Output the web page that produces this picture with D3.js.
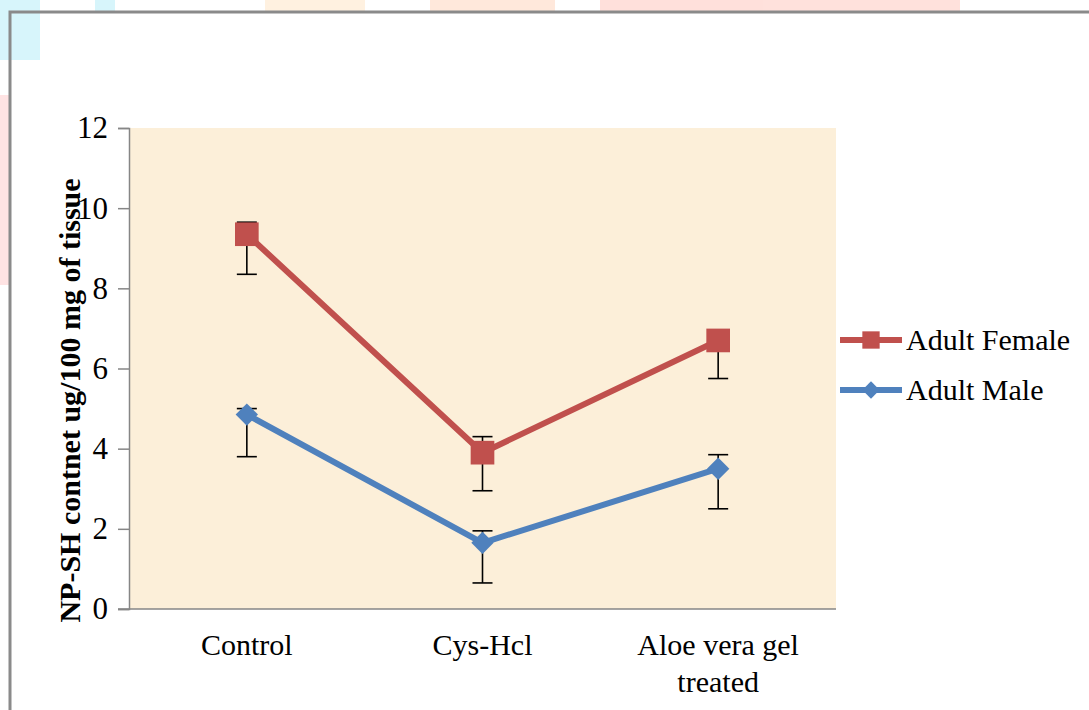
<!DOCTYPE html>
<html>
<head>
<meta charset="utf-8">
<script src="https://cdn.jsdelivr.net/npm/d3@7"></script>
<style>
  body { margin: 0; background: #fff; }
  svg text { font-family: "Liberation Serif", "Times New Roman", serif; fill: #000; }
</style>
</head>
<body>
<div id="chart"></div>
<script>
// chart data
const categories = ["Control", "Cys-Hcl", "Aloe vera gel treated"];
const seriesNames = ["Adult Female", "Adult Male"];
const femaleValues = [9.35, 3.9, 6.7];
const femaleErrPlus = [0.3, 0.4, 0.25];
const femaleErrMinus = [1.0, 0.95, 0.95];
const maleValues = [4.85, 1.65, 3.5];
const maleErrPlus = [0.15, 0.3, 0.35];
const maleErrMinus = [1.05, 1.0, 1.0];
const yTicks = [0, 2, 4, 6, 8, 10, 12];

function renderChart() {
    const width = 1089, height = 710;
    const margin = { left: 129, right: 253, top: 128, bottom: 101 }; // plot = 129..836, 128..609

    const svg = d3.select("#chart").append("svg")
        .attr("width", width)
        .attr("height", height);

    // faint watermark pieces peeking above the frame
    const wm = svg.append("g").attr("opacity", 0.35);
    wm.append("rect").attr("x", 0).attr("y", 0).attr("width", 40).attr("height", 60).attr("fill", "#8fe3f5");
    wm.append("rect").attr("x", 95).attr("y", 0).attr("width", 20).attr("height", 11).attr("fill", "#8fe3f5");
    wm.append("rect").attr("x", 265).attr("y", 0).attr("width", 100).attr("height", 11).attr("fill", "#ffd9a8");
    wm.append("rect").attr("x", 430).attr("y", 0).attr("width", 125).attr("height", 11).attr("fill", "#ffc09a");
    wm.append("rect").attr("x", 600).attr("y", 0).attr("width", 360).attr("height", 11).attr("fill", "#ffa89a");
    wm.append("rect").attr("x", 0).attr("y", 95).attr("width", 9).attr("height", 190).attr("fill", "#ffb0b0");

    // outer frame
    svg.append("rect")
        .attr("x", 10).attr("y", 12)
        .attr("width", width + 20).attr("height", height + 20)
        .attr("fill", "none")
        .attr("stroke", "#8a8a8a")
        .attr("stroke-width", 3);

    const x = d3.scaleBand()
        .domain(categories)
        .range([margin.left, width - margin.right]);

    const y = d3.scaleLinear()
        .domain([0, 12])
        .range([height - margin.bottom, margin.top]);

    // plot area background
    svg.append("rect")
        .attr("x", margin.left).attr("y", margin.top)
        .attr("width", width - margin.left - margin.right)
        .attr("height", height - margin.top - margin.bottom)
        .attr("fill", "#fcefd9");

    // y axis
    const yAxis = svg.append("g")
        .attr("transform", `translate(${margin.left},0)`)
        .call(d3.axisLeft(y).tickValues(yTicks).tickSize(11).tickPadding(10));
    yAxis.select(".domain").attr("stroke", "#868686").attr("stroke-width", 1.5);
    yAxis.selectAll(".tick line").attr("stroke", "#868686").attr("stroke-width", 1.5);
    yAxis.selectAll(".tick text")
        .attr("font-size", 31)
        .attr("font-family", "Liberation Serif, serif")
        .attr("fill", "#000");

    // x axis line (no ticks)
    svg.append("line")
        .attr("x1", margin.left - 11).attr("x2", width - margin.right)
        .attr("y1", y(0)).attr("y2", y(0))
        .attr("stroke", "#868686").attr("stroke-width", 1.5);

    // x labels (wrap the long one)
    const xLabels = { "Aloe vera gel treated": ["Aloe vera gel", "treated"] };
    categories.forEach(c => {
        const lines = xLabels[c] || [c];
        const t = svg.append("text")
            .attr("x", x(c) + x.bandwidth() / 2)
            .attr("y", 655)
            .attr("text-anchor", "middle")
            .attr("font-size", 30);
        lines.forEach((l, i) => {
            t.append("tspan")
                .attr("x", x(c) + x.bandwidth() / 2)
                .attr("dy", i === 0 ? 0 : 37)
                .text(l);
        });
    });

    // y axis title
    svg.append("text")
        .attr("transform", `translate(80,${(margin.top + height - margin.bottom) / 2 + 32}) rotate(-90)`)
        .attr("text-anchor", "middle")
        .attr("font-size", 30)
        .attr("font-weight", "bold")
        .text("NP-SH contnet ug/100 mg of tissue");

    const series = [
        { name: seriesNames[0], values: femaleValues, plus: femaleErrPlus, minus: femaleErrMinus, color: "#c0504d", shape: "square" },
        { name: seriesNames[1], values: maleValues, plus: maleErrPlus, minus: maleErrMinus, color: "#4f81bd", shape: "diamond" }
    ];

    const cx = c => x(c) + x.bandwidth() / 2;
    const line = d3.line().x(d => cx(d.cat)).y(d => y(d.v));

    // square, or square turned 45 degrees for the diamond
    const markerPath = size => d3.symbol(d3.symbolSquare, size)();

    // draw male first so female sits on top like the original
    series.slice().reverse().forEach(s => {
        const pts = categories.map((c, i) => ({ cat: c, v: s.values[i], p: s.plus[i], m: s.minus[i] }));
        const g = svg.append("g");

        g.append("path")
            .datum(pts)
            .attr("d", line)
            .attr("fill", "none")
            .attr("stroke", s.color)
            .attr("stroke-width", 6)
            .attr("stroke-linejoin", "round");

        // error bars
        const eb = g.selectAll(".err").data(pts).join("g").attr("stroke", "#000").attr("stroke-width", 1.6);
        eb.append("line")
            .attr("x1", d => cx(d.cat)).attr("x2", d => cx(d.cat))
            .attr("y1", d => y(d.v + d.p)).attr("y2", d => y(d.v - d.m));
        eb.append("line")
            .attr("x1", d => cx(d.cat) - 10).attr("x2", d => cx(d.cat) + 10)
            .attr("y1", d => y(d.v + d.p)).attr("y2", d => y(d.v + d.p));
        eb.append("line")
            .attr("x1", d => cx(d.cat) - 10).attr("x2", d => cx(d.cat) + 10)
            .attr("y1", d => y(d.v - d.m)).attr("y2", d => y(d.v - d.m));

        g.selectAll(".mk").data(pts).join("path")
            .attr("transform", d => `translate(${cx(d.cat)},${y(d.v)})` + (s.shape === "diamond" ? " rotate(45)" : ""))
            .attr("d", markerPath(s.shape === "square" ? 560 : 250))
            .attr("fill", s.color);
    });

    // legend
    const legend = svg.append("g");
    series.forEach((s, i) => {
        const ly = 340 + i * 50;
        legend.append("line")
            .attr("x1", 840).attr("x2", 902)
            .attr("y1", ly).attr("y2", ly)
            .attr("stroke", s.color).attr("stroke-width", 6);
        legend.append("path")
            .attr("transform", `translate(871,${ly})` + (s.shape === "diamond" ? " rotate(45)" : ""))
            .attr("d", markerPath(s.shape === "square" ? 300 : 150))
            .attr("fill", s.color);
        legend.append("text")
            .attr("x", 906).attr("y", ly + 10)
            .attr("font-size", 30)
            .text(s.name);
    });
}

renderChart();
</script>
</body>
</html>
